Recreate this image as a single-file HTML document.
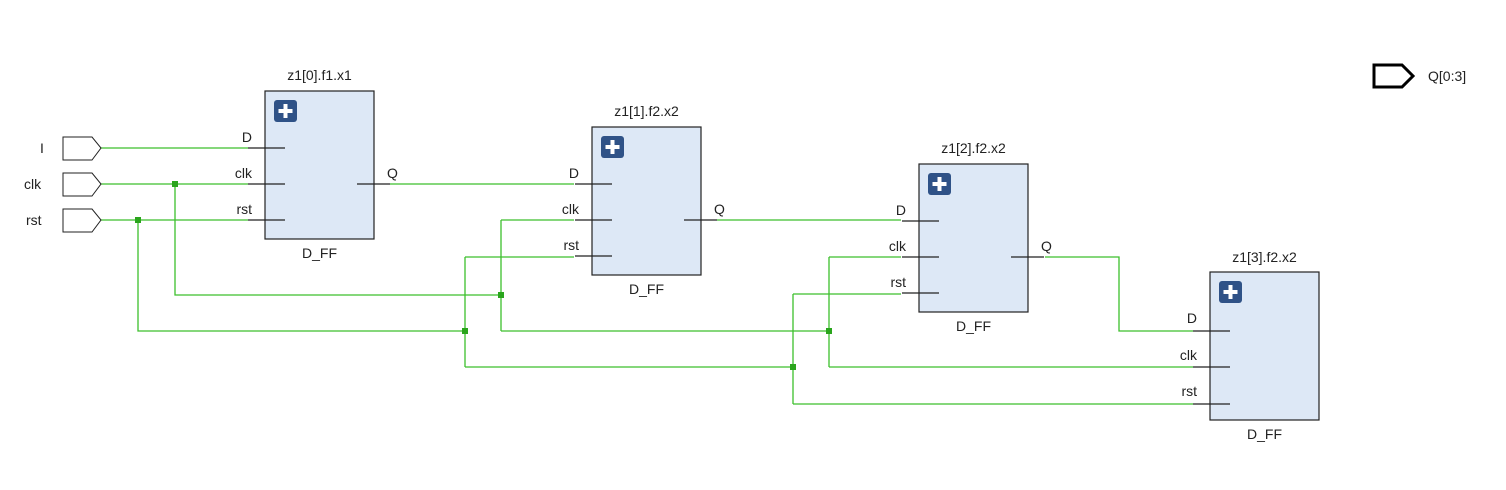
<!DOCTYPE html>
<html><head><meta charset="utf-8"><style>body{margin:0;background:#fff}svg{display:block}text{font-family:"Liberation Sans",sans-serif;font-size:14px;fill:#222}</style></head><body>
<svg width="1506" height="490" viewBox="0 0 1506 490" xmlns="http://www.w3.org/2000/svg">
<g fill="none" stroke="#3cbf2c" stroke-width="1.3">
<path d="M101 148H248M101 184H248M101 220H248"/>
<path d="M175 184V295H501M501 220V331M501 220H574M501 331H829M829 257V367M829 257H901M829 367H1193"/>
<path d="M138 220V331H465M465 257V367M465 257H574M465 367H793M793 294V404M793 294H901M793 404H1193"/>
<path d="M390 184H574M717 220H901M1045 257H1119V331H1193"/>
</g>
<g fill="#2aa51c"><rect x="172" y="181" width="6" height="6"/><rect x="135" y="217" width="6" height="6"/><rect x="498" y="292" width="6" height="6"/><rect x="462" y="328" width="6" height="6"/><rect x="826" y="328" width="6" height="6"/><rect x="790" y="364" width="6" height="6"/></g>
<g fill="#fff" stroke="#222" stroke-width="1"><path d="M63 137H92L101 148L92 160H63Z"/><path d="M63 173H92L101 184L92 196H63Z"/><path d="M63 209H92L101 220L92 232H63Z"/></g>
<text x="40" y="153">I</text><text x="24" y="189">clk</text><text x="26" y="225">rst</text>
<path d="M1374 65H1402L1413 76L1402 87H1374Z" fill="#fff" stroke="#000" stroke-width="3"/>
<text x="1428" y="81" font-size="13">Q[0:3]</text>
<defs><g id="ff">
<rect x="0" y="0" width="109" height="148" fill="#dde8f6" stroke="#222" stroke-width="1.2"/>
<rect x="9" y="9" width="23" height="22" rx="3" fill="#2f5287"/>
<path d="M20.5 13V27M13.5 20H27.5" stroke="#fff" stroke-width="4"/>
<path d="M-17 57H20M-17 93H20M-17 129H20M92 93H125" stroke="#222" stroke-width="1.2"/>
<text x="-16" y="51" text-anchor="end" dx="3">D</text>
<text x="-14" y="87" text-anchor="end" dx="1">clk</text>
<text x="-14" y="123" text-anchor="end" dx="1">rst</text>
<text x="113" y="87" text-anchor="start" dx="9">Q</text>
<text x="54.5" y="167" text-anchor="middle">D_FF</text>
</g></defs>
<use href="#ff" x="265" y="91"/><text x="319.5" y="80" text-anchor="middle">z1[0].f1.x1</text>
<use href="#ff" x="592" y="127"/><text x="646.5" y="116" text-anchor="middle">z1[1].f2.x2</text>
<use href="#ff" x="919" y="164"/><text x="973.5" y="153" text-anchor="middle">z1[2].f2.x2</text>
<g transform="translate(1210 272)"><rect x="0" y="0" width="109" height="148" fill="#dde8f6" stroke="#222" stroke-width="1.2"/>
<rect x="9" y="9" width="23" height="22" rx="3" fill="#2f5287"/><path d="M20.5 13V27M13.5 20H27.5" stroke="#fff" stroke-width="4"/>
<path d="M-17 59H20M-17 95H20M-17 132H20" stroke="#222" stroke-width="1.2"/>
<text x="-13" y="51" text-anchor="end">D</text><text x="-13" y="88" text-anchor="end">clk</text><text x="-13" y="124" text-anchor="end">rst</text>
<text x="54.5" y="167" text-anchor="middle">D_FF</text></g>
<text x="1264.5" y="262" text-anchor="middle">z1[3].f2.x2</text>
</svg>
</body></html>
